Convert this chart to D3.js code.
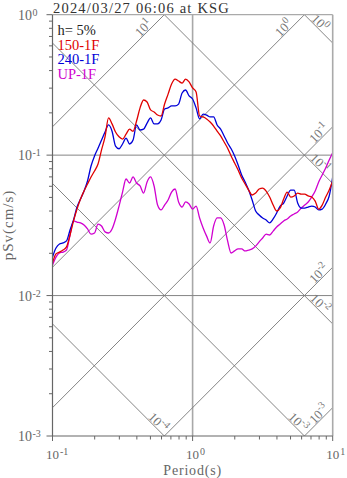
<!DOCTYPE html>
<html>
<head>
<meta charset="utf-8">
<script src="https://cdn.jsdelivr.net/npm/d3@7"></script>
<style>
  body { margin: 0; background: #fff; }
  svg { display: block; }
  text { font-family: "Liberation Serif", "DejaVu Serif", serif; }
</style>
</head>
<body>
<svg id="chart" width="347" height="478"></svg>
<script>
// Pseudo-velocity response spectra (h = 5%), tripartite log-log chart.

// Natural periods (s)
const periods = [0.1000,0.1059,0.1122,0.1189,0.1259,0.1334,0.1413,0.1496,0.1585,0.1679,
  0.1778,0.1884,0.1995,0.2113,0.2239,0.2371,0.2512,0.2661,0.2818,0.2985,
  0.3162,0.3350,0.3548,0.3758,0.3981,0.4217,0.4467,0.4732,0.5012,0.5309,
  0.5623,0.5957,0.6310,0.6683,0.7079,0.7499,0.7943,0.8414,0.8913,0.9441,
  1.000,1.059,1.122,1.189,1.259,1.334,1.413,1.496,1.585,1.679,
  1.778,1.884,1.995,2.113,2.239,2.371,2.512,2.661,2.818,2.985,
  3.162,3.350,3.548,3.758,3.981,4.217,4.467,4.732,5.012,5.309,
  5.623,5.957,6.310,6.683,7.079,7.499,7.943,8.414,8.913,9.441,10.00];

// pSv (cm/s), component 150-1F
const sv150 = [0.0171,0.0198,0.0204,0.0211,0.0222,0.0270,0.0340,0.0413,0.0487,0.0555,
  0.0623,0.0699,0.0771,0.0865,0.109,0.135,0.184,0.167,0.146,0.135,
  0.130,0.141,0.153,0.148,0.175,0.217,0.247,0.239,0.210,0.203,
  0.193,0.190,0.231,0.272,0.321,0.348,0.337,0.326,0.348,0.332,
  0.301,0.282,0.190,0.187,0.181,0.172,0.161,0.148,0.137,0.124,
  0.112,0.0986,0.0879,0.0783,0.0687,0.0623,0.0564,0.0520,0.0537,0.0574,
  0.0583,0.0555,0.0503,0.0441,0.0400,0.0420,0.0487,0.0546,0.0503,0.0512,
  0.0537,0.0528,0.0528,0.0512,0.0503,0.0471,0.0413,0.0441,0.0503,0.0564,0.0654];

// pSv (cm/s), component 240-1F
const sv240 = [0.0188,0.0218,0.0233,0.0237,0.0245,0.0293,0.0345,0.0427,0.0487,0.0555,
  0.0654,0.0837,0.0986,0.112,0.128,0.146,0.164,0.148,0.116,0.111,
  0.120,0.132,0.120,0.128,0.164,0.151,0.153,0.169,0.184,0.167,
  0.167,0.178,0.213,0.217,0.224,0.224,0.231,0.277,0.291,0.264,
  0.251,0.217,0.181,0.196,0.193,0.187,0.187,0.164,0.153,0.137,
  0.122,0.111,0.0986,0.0851,0.0722,0.0644,0.0564,0.0479,0.0400,0.0375,
  0.0357,0.0345,0.0329,0.0351,0.0387,0.0434,0.0456,0.0512,0.0564,0.0564,
  0.0456,0.0420,0.0420,0.0427,0.0434,0.0427,0.0407,0.0413,0.0449,0.0512,0.0699];

// pSv (cm/s), vertical component UP-1F
const svUP = [0.0165,0.0188,0.0201,0.0204,0.0211,0.0270,0.0340,0.0334,0.0329,0.0318,
  0.0298,0.0274,0.0279,0.0323,0.0313,0.0284,0.0279,0.0298,0.0351,0.0434,
  0.0546,0.0676,0.0633,0.0699,0.0633,0.0603,0.0537,0.0644,0.0699,0.0603,
  0.0441,0.0407,0.0441,0.0479,0.0546,0.0574,0.0464,0.0427,0.0464,0.0449,
  0.0413,0.0434,0.0357,0.0303,0.0265,0.0237,0.0313,0.0357,0.0357,0.0318,
  0.0245,0.0201,0.0208,0.0215,0.0215,0.0208,0.0211,0.0215,0.0225,0.0241,
  0.0257,0.0274,0.0270,0.0288,0.0308,0.0323,0.0340,0.0351,0.0369,0.0381,
  0.0394,0.0420,0.0441,0.0464,0.0503,0.0555,0.0644,0.0722,0.0810,0.0923,0.104];

const seriesNames = ["150-1F", "240-1F", "UP-1F"];
const seriesColors = ["#e00000", "#0000d8", "#d000d0"];
const seriesValues = [sv150, sv240, svUP];

// Exponents of the diagonal reference lines
const accelExponents = [1, 0, -1, -2, -3];   // pseudo-acceleration, cm/s^2
const dispExponents = [0, -1, -2, -3, -4];   // displacement, cm

const xTickExponents = [-1, 0, 1];
const yTickExponents = [0, -1, -2, -3];

const titleText = "2024/03/27 06:06 at KSG";
const dampingText = "h= 5%";
const xTitle = "Period(s)";
const yTitle = "pSv(cm/s)";

// ---- layout ----
const L = 52.5, R = 332.7, T = 14.7, B = 436;
const TWO_PI = 2 * Math.PI;
const svg = d3.select("#chart");

const x = d3.scaleLog().domain([0.1, 10]).range([L, R]);
const y = d3.scaleLog().domain([1e-3, 1]).range([B, T]);

svg.append("defs").append("clipPath").attr("id", "plotClip")
  .append("rect").attr("x", L).attr("y", T).attr("width", R - L).attr("height", B - T);

// grid lines
const grid = svg.append("g");
grid.append("line")
  .attr("x1", x(1)).attr("x2", x(1)).attr("y1", T).attr("y2", B)
  .attr("stroke", "#a8a8a8").attr("stroke-width", 1.6);
[1e-1, 1e-2].forEach(v => {
  grid.append("line")
    .attr("x1", L).attr("x2", R).attr("y1", y(v)).attr("y2", y(v))
    .attr("stroke", "#858585").attr("stroke-width", 1);
});

// diagonal lines (tripartite)
const diag = svg.append("g").attr("clip-path", "url(#plotClip)");
const diagLabels = svg.append("g");

function addExpLabel(g, cx, cy, angle, exp, size) {
  const t = g.append("text")
    .attr("transform", `translate(${cx},${cy}) rotate(${angle})`)
    .attr("text-anchor", "middle")
    .attr("dominant-baseline", "central")
    .attr("fill", "#777")
    .style("font-size", size + "px");
  t.append("tspan").text("10");
  t.append("tspan").attr("dy", -4.5).style("font-size", (size - 3) + "px").text(String(exp));
}

function drawDiagonal(fn, t1, t2, ascending, exp) {
  if (t1 >= t2) return;
  diag.append("line")
    .attr("x1", x(t1)).attr("y1", y(fn(t1)))
    .attr("x2", x(t2)).attr("y2", y(fn(t2)))
    .attr("stroke", "#777").attr("stroke-width", 0.9);
  const ex = x(t2);
  const atRight = t2 >= 10 - 1e-9;
  let back;
  if (ascending) back = atRight ? 10 : 17;
  else back = atRight ? 16.5 : 10;
  const px = ex - back;
  const py = y(fn(x.invert(px)));
  const off = 6 / Math.SQRT2;
  const cx = ascending ? px - off : px + off;
  const cy = py - off;
  addExpLabel(diagLabels, cx, cy, ascending ? -45 : 45, exp, 13);
}

accelExponents.forEach(k => {
  const a = Math.pow(10, k);
  const fn = t => a * t / TWO_PI;
  const t1 = Math.max(0.1, TWO_PI * 1e-3 / a);
  const t2 = Math.min(10, TWO_PI * 1 / a);
  drawDiagonal(fn, t1, t2, true, k);
});
dispExponents.forEach(m => {
  const d = Math.pow(10, m);
  const fn = t => TWO_PI * d / t;
  const t1 = Math.max(0.1, TWO_PI * d / 1);
  const t2 = Math.min(10, TWO_PI * d / 1e-3);
  drawDiagonal(fn, t1, t2, false, m);
});

// spectra
const line = d3.line()
  .x((d, i) => x(periods[i]))
  .y(d => y(d))
  .curve(d3.curveMonotoneX);
const curves = svg.append("g").attr("clip-path", "url(#plotClip)");
seriesValues.slice().reverse().forEach((vals, ri) => {
  const i = seriesValues.length - 1 - ri;
  curves.append("path")
    .attr("d", line(vals))
    .attr("fill", "none")
    .attr("stroke", seriesColors[i])
    .attr("stroke-width", 1.3)
    .attr("stroke-linejoin", "round");
});

// frame
svg.append("line").attr("x1", L).attr("x2", R).attr("y1", T).attr("y2", T)
  .attr("stroke", "#aaa").attr("stroke-width", 1.2);
svg.append("line").attr("x1", R).attr("x2", R).attr("y1", T).attr("y2", B)
  .attr("stroke", "#aaa").attr("stroke-width", 1.6);
svg.append("line").attr("x1", L).attr("x2", L).attr("y1", T).attr("y2", B)
  .attr("stroke", "#666").attr("stroke-width", 1.2);
svg.append("line").attr("x1", L).attr("x2", R).attr("y1", B).attr("y2", B)
  .attr("stroke", "#666").attr("stroke-width", 1.2);

// ticks
const ticks = svg.append("g").attr("stroke", "#666").attr("stroke-width", 1);
yTickExponents.forEach(e => {
  const v = Math.pow(10, e);
  ticks.append("line").attr("x1", L - 6).attr("x2", L).attr("y1", y(v)).attr("y2", y(v));
});
[-3, -2, -1].forEach(e => {
  for (let k = 2; k <= 9; k++) {
    const v = k * Math.pow(10, e);
    ticks.append("line").attr("x1", L - 3.5).attr("x2", L).attr("y1", y(v)).attr("y2", y(v));
  }
});
xTickExponents.forEach(e => {
  const v = Math.pow(10, e);
  ticks.append("line").attr("x1", x(v)).attr("x2", x(v)).attr("y1", B).attr("y2", B + 5);
});
[-1, 0].forEach(e => {
  for (let k = 2; k <= 9; k++) {
    const v = k * Math.pow(10, e);
    ticks.append("line").attr("x1", x(v)).attr("x2", x(v)).attr("y1", B).attr("y2", B + 3.5);
  }
});

// tick labels
const tl = svg.append("g").attr("fill", "#666");
yTickExponents.forEach(e => {
  const yy = y(Math.pow(10, e));
  tl.append("text").attr("x", 32).attr("y", yy + 5).attr("text-anchor", "end")
    .style("font-size", "14px").text("10");
  tl.append("text").attr("x", 32.5).attr("y", yy + 1).style("font-size", "10px").text(String(e));
});
xTickExponents.forEach(e => {
  const xx = x(Math.pow(10, e));
  tl.append("text").attr("x", xx).attr("y", 459.4).attr("text-anchor", "middle")
    .style("font-size", "13px").text("10");
  tl.append("text").attr("x", xx + 7.5).attr("y", 455).style("font-size", "10px").text(String(e));
});

// axis titles
svg.append("text").attr("x", (L + R) / 2).attr("y", 474.8).attr("text-anchor", "middle")
  .attr("fill", "#666").style("font-size", "14px").style("letter-spacing", "0.8px").text(xTitle);
svg.append("text").attr("transform", `translate(13,225) rotate(-90)`).attr("text-anchor", "middle")
  .attr("fill", "#666").style("font-size", "15px").style("letter-spacing", "1px").text(yTitle);

// title
svg.append("text").attr("x", 53).attr("y", 13).attr("fill", "#333")
  .style("font-size", "14.5px").style("letter-spacing", "1.2px").text(titleText);

// legend
const legend = svg.append("g");
legend.append("text").attr("x", 57.5).attr("y", 35).attr("fill", "#222")
  .style("font-size", "14.5px").text(dampingText);
seriesNames.forEach((name, i) => {
  legend.append("text").attr("x", 57.5).attr("y", 49.5 + i * 14.5)
    .attr("fill", seriesColors[i]).style("font-size", "14.5px").text(name);
});
</script>
</body>
</html>
